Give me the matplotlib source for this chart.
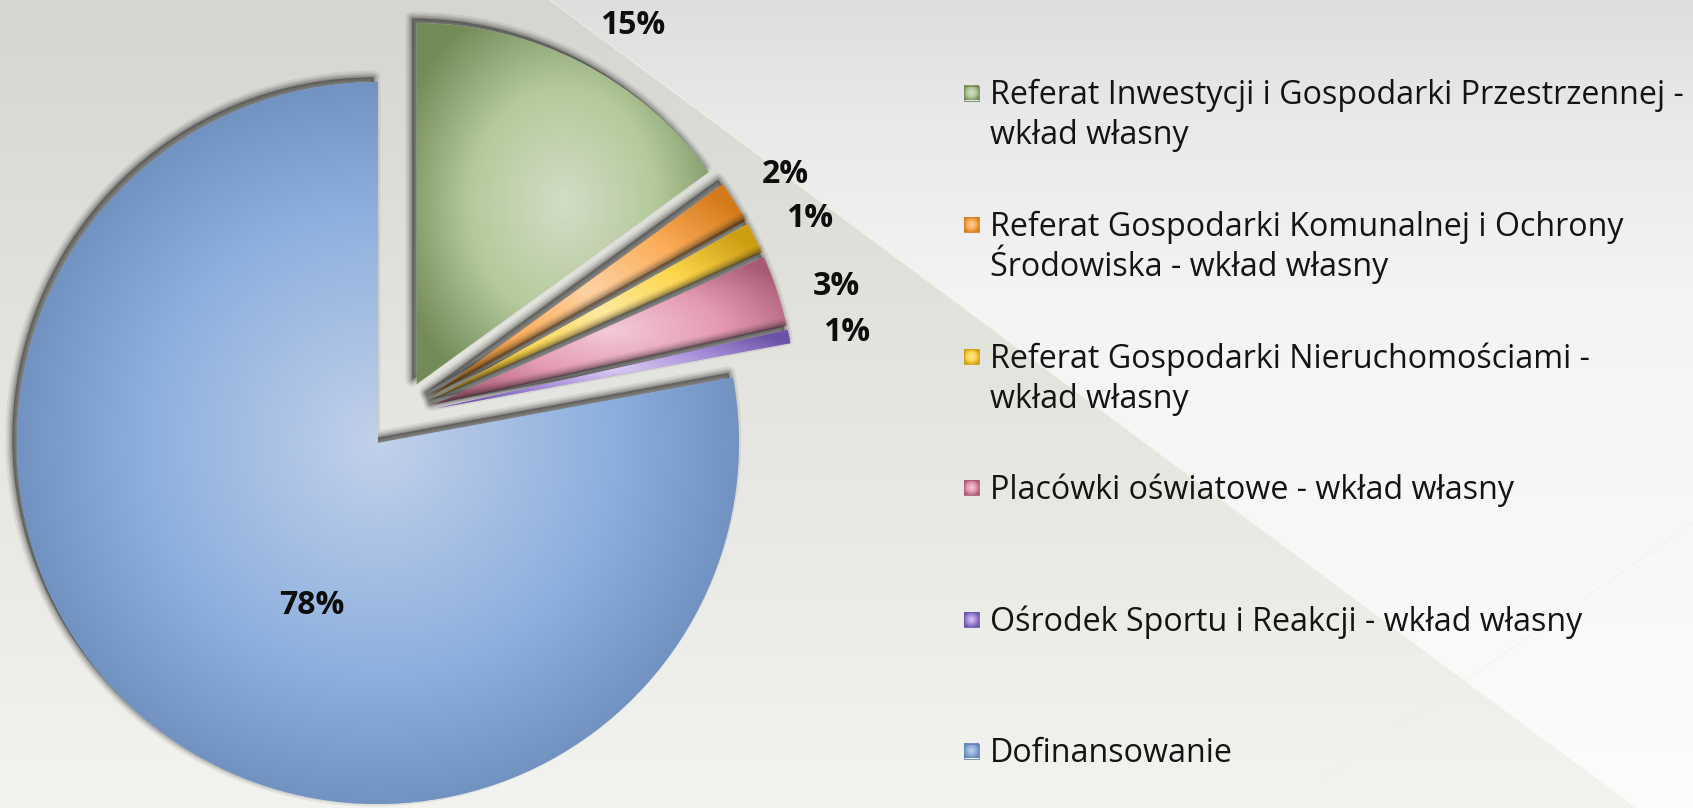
import numpy as np
import matplotlib
matplotlib.use("Agg")
import matplotlib.pyplot as plt
from matplotlib.patches import Wedge, Rectangle
from matplotlib.colors import to_rgb

W, H = 1693, 808

categories = [
    "Referat Inwestycji i Gospodarki Przestrzennej -\nwkład własny",
    "Referat Gospodarki Komunalnej i Ochrony\nŚrodowiska - wkład własny",
    "Referat Gospodarki Nieruchomościami -\nwkład własny",
    "Placówki oświatowe - wkład własny",
    "Ośrodek Sportu i Reakcji - wkład własny",
    "Dofinansowanie",
]
shares = [15.0, 1.9, 1.4, 3.2, 0.6, 77.9]

# light / base / dark tone of every slice
palettes = [
    ("#d3ddc7", "#b4ca9b", "#728b59"),
    ("#ffd2a4", "#fbad58", "#d57a1a"),
    ("#ffeaa2", "#fdd64c", "#cc9e12"),
    ("#f3cad8", "#e499b3", "#a85a74"),
    ("#d9ccf2", "#a68bd8", "#6a52a6"),
    ("#c2d1ea", "#8eb0de", "#6283b2"),
]
FONT = "Open Sans"

# pie geometry in pixels (y up)
CX, CY = 400.6, H - 415.7
R = 361
EXPLODE = 35.5


def gradient(X, Y, cx, cy, hw, hh, tones):
    t = np.sqrt(((X - cx) / hw) ** 2 + ((Y - cy) / hh) ** 2) / np.sqrt(2)
    cols = np.array([to_rgb(c) for c in tones])
    pos = [0.0, 0.45, 0.85]
    return np.stack([np.interp(t, pos, cols[:, k]) for k in range(3)], axis=-1)


fig = plt.figure(figsize=(W / 100, H / 100), dpi=100)
ax = fig.add_axes([0, 0, 1, 1])

# ── background: grey gradient split by a diagonal ───────────────────────────
yy, xx = np.mgrid[0:H, 0:W].astype(float)
edge_x = 550 + yy * (1635 - 550) / H
left_stops = np.array([[213, 213, 209], [226, 226, 221], [235, 235, 231], [243, 243, 240]]) / 255
right_stops = np.array([[222, 222, 222], [233, 233, 233], [244, 244, 244], [252, 252, 252]]) / 255
left_y = [0, 300, 600, 808]
right_y = [0, 120, 300, 808]
bg = np.zeros((H, W, 3))
for k in range(3):
    lv = np.interp(yy, left_y, left_stops[:, k])
    rv = np.interp(yy, right_y, right_stops[:, k])
    bg[..., k] = np.where(xx < edge_x, lv, rv)
ax.imshow(bg, extent=(0, W, 0, H), origin="upper", aspect="auto", zorder=0)
ax.plot([550, 1635], [H, 0], color="#f2f2de", lw=0.8, alpha=0.7, zorder=1)
ax.plot([1281, 1693], [0, H - 523], color="#f2f2de", lw=0.8, alpha=0.7, zorder=1)

# ── pie ─────────────────────────────────────────────────────────────────────
wedges, _ = ax.pie(shares, explode=[EXPLODE] * len(shares), startangle=90,
                   counterclock=False, center=(CX, CY), radius=R, frame=True,
                   colors=[p[1] for p in palettes], wedgeprops=dict(linewidth=0))

# soft drop shadow: stacked translucent copies, shifted up-left
shadow_layers = [(10, 0.08), (7, 0.11), (4.5, 0.15), (2, 0.2)]
for i, (w, pal) in enumerate(zip(wedges, palettes)):
    x0, y0 = w.center
    th = np.radians(np.linspace(w.theta1, w.theta2, 500))
    px = np.concatenate([[x0], x0 + w.r * np.cos(th)])
    py = np.concatenate([[y0], y0 + w.r * np.sin(th)])
    bx0, bx1, by0, by1 = px.min(), px.max(), py.min(), py.max()

    for lw, a in shadow_layers:
        ax.add_patch(Wedge((x0 - 4.5, y0 + 4.5), w.r, w.theta1, w.theta2,
                           facecolor="#262626", edgecolor="#262626", lw=lw,
                           alpha=a, joinstyle="round", zorder=2 + 2 * i))
    w.set_zorder(2.5 + 2 * i)

    xs = np.arange(np.floor(bx0), np.ceil(bx1) + 1)
    ys = np.arange(np.floor(by0), np.ceil(by1) + 1)
    X, Y = np.meshgrid(xs, ys)
    img = gradient(X, Y, (bx0 + bx1) / 2, (by0 + by1) / 2,
                   (bx1 - bx0) / 2, (by1 - by0) / 2, pal)
    im = ax.imshow(img, extent=(xs[0] - .5, xs[-1] + .5, ys[0] - .5, ys[-1] + .5),
                   origin="lower", aspect="auto", interpolation="bilinear",
                   zorder=3 + 2 * i)
    im.set_clip_path(w)

# percentage labels
label_nudge = [-4.0, -0.5, -1.0, -2.0, -1.0]
for i, w in enumerate(wedges[:-1]):
    mid = np.radians(0.5 * (w.theta1 + w.theta2) + label_nudge[i])
    d = 1.16 * w.r
    ax.text(w.center[0] + d * np.cos(mid), w.center[1] + d * np.sin(mid),
            f"{shares[i]:.0f}%", ha="center", va="center", fontsize=23,
            fontweight="bold", family=FONT, color="#0d0d0d", zorder=30)
blue = wedges[-1]
ang = np.radians(248)
ax.text(blue.center[0] + 0.485 * blue.r * np.cos(ang),
        blue.center[1] + 0.485 * blue.r * np.sin(ang),
        f"{shares[-1]:.0f}%", ha="center", va="center", fontsize=23,
        fontweight="bold", family=FONT, color="#0d0d0d", zorder=30)

# ── legend ──────────────────────────────────────────────────────────────────
MX, MS, TX = 964, 15, 990
for i, (lab, pal) in enumerate(zip(categories, palettes)):
    cy = H - (93 + 131.6 * i)
    my = cy - MS / 2
    gx, gy = np.meshgrid(np.linspace(0, 1, 30), np.linspace(0, 1, 30))
    mimg = gradient(gx, gy, 0.5, 0.5, 0.5, 0.5, pal)
    ax.imshow(mimg, extent=(MX, MX + MS, my, my + MS), origin="lower",
              aspect="auto", interpolation="bilinear", zorder=20)
    ax.add_patch(Rectangle((MX, my), MS, MS, fill=False, edgecolor=pal[2],
                           lw=0.6, zorder=21))
    for j, line in enumerate(lab.split("\n")):
        ax.text(TX, cy - 11.5 - j * 40, line, ha="left", va="baseline",
                fontsize=23.2, family=FONT, color="#141414", zorder=30)

ax.set_xlim(0, W)
ax.set_ylim(0, H)
ax.set_aspect("auto")
ax.axis("off")
fig.savefig("out.png", dpi=100)
